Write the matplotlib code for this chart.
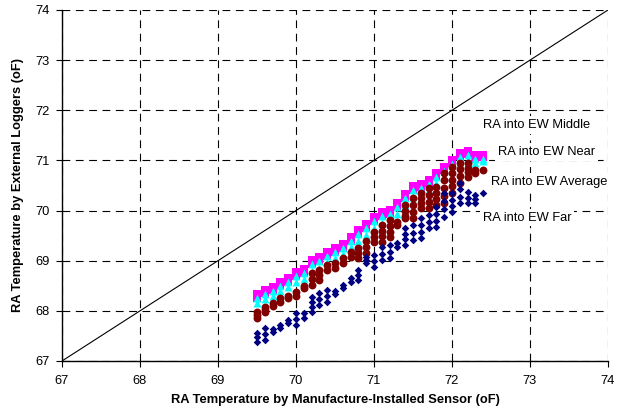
import matplotlib
matplotlib.use('agg')
import matplotlib.pyplot as plt

plt.rcParams['font.family'] = ['Liberation Sans', 'DejaVu Sans']

# sensor temperature columns (oF)
x_sensor = [69.5, 69.6, 69.7, 69.8, 69.9, 70.0, 70.1, 70.2, 70.3, 70.4,
            70.5, 70.6, 70.7, 70.8, 70.9, 71.0, 71.1, 71.2, 71.3, 71.4,
            71.5, 71.6, 71.7, 71.8, 71.9, 72.0, 72.1, 72.2, 72.3, 72.4]

# logger readings per column
ew_middle = [[68.33, 68.26], [68.42, 68.35], [68.48, 68.41], [68.58, 68.51], [68.65, 68.58],
             [68.78, 68.70], [68.83, 68.76], [69.02, 68.94], [69.07, 69.00], [69.17, 69.10],
             [69.25, 69.18], [69.33, 69.26], [69.47, 69.40], [69.61, 69.53], [69.73, 69.66],
             [69.87, 69.80], [69.97, 69.90], [70.01, 69.94], [70.15, 70.08], [70.33, 70.25],
             [70.49, 70.41], [70.53, 70.46], [70.61, 70.54], [70.75, 70.68], [70.87, 70.80],
             [71.01, 70.94], [71.15, 71.08], [71.19, 71.12], [71.11, 71.05], [71.11, 71.06]]

ew_near = [[68.25, 68.15], [68.33, 68.23], [68.40, 68.30], [68.50, 68.40], [68.57, 68.47],
           [68.70, 68.58], [68.75, 68.63], [68.93, 68.80], [68.99, 68.86], [69.09, 68.97],
           [69.17, 69.05], [69.25, 69.13], [69.39, 69.27], [69.53, 69.40], [69.65, 69.52],
           [69.79, 69.66], [69.89, 69.76], [69.93, 69.80], [70.07, 69.94], [70.25, 70.12],
           [70.41, 70.28], [70.45, 70.32], [70.53, 70.40], [70.67, 70.55], [70.79, 70.67],
           [70.93, 70.80], [71.07, 70.95], [71.11, 71.00], [71.03, 70.95], [71.03, 70.98]]

ew_average = [[67.97, 67.91, 67.85], [68.07, 68.02, 67.97], [68.15, 68.10], [68.25, 68.17], [68.30, 68.26],
              [68.37, 68.30], [68.50, 68.45], [68.75, 68.63, 68.51], [68.81, 68.71, 68.61], [68.91, 68.81],
              [68.95, 68.85], [69.05, 68.95], [69.17, 69.07], [69.25, 69.15, 69.05], [69.40, 69.28, 69.15],
              [69.57, 69.47, 69.37], [69.71, 69.60, 69.49, 69.37], [69.81, 69.70, 69.58, 69.47], [69.77, 69.71], [70.11, 70.00, 69.90, 69.85],
              [70.25, 70.12, 69.98, 69.85], [70.35, 70.25, 70.15, 70.05], [70.45, 70.32, 70.18, 70.05], [70.47, 70.35, 70.23, 70.11], [70.75, 70.60, 70.45, 70.30, 70.15],
              [70.87, 70.74, 70.61, 70.48, 70.35], [70.95, 70.82, 70.68, 70.55], [70.95, 70.85, 70.76, 70.67], [70.81, 70.75], [70.81]]

ew_far = [[67.56, 67.47, 67.38], [67.66, 67.54, 67.42], [67.64, 67.58], [67.72, 67.66], [67.82, 67.76],
          [67.95, 67.84, 67.72], [67.95, 67.85], [68.28, 68.18, 68.07, 67.97], [68.36, 68.24, 68.12], [68.42, 68.30, 68.18],
          [68.40, 68.34], [68.51, 68.45], [68.65, 68.57], [68.81, 68.71, 68.61], [69.07, 69.01, 68.95],
          [69.11, 68.99, 68.87], [69.27, 69.14, 69.01], [69.31, 69.18, 69.05], [69.35, 69.27], [69.65, 69.54, 69.43, 69.31],
          [69.71, 69.56, 69.41], [69.85, 69.72, 69.58, 69.45], [69.91, 69.78, 69.65], [70.07, 69.94, 69.80, 69.67], [70.35, 70.19, 70.03, 69.87],
          [70.35, 70.22, 70.10, 69.97], [70.55, 70.42, 70.28, 70.15], [70.37, 70.26, 70.15], [70.31, 70.23, 70.15], [70.35]]

series_names = ['RA into EW Middle', 'RA into EW Near', 'RA into EW Average', 'RA into EW Far']
label_pos = [(73.08, 71.71), (73.21, 71.17), (73.24, 70.57), (72.96, 69.86)]


def flatten(cols):
    xs, ys = [], []
    for xv, col in zip(x_sensor, cols):
        for yv in col:
            xs.append(xv)
            ys.append(yv)
    return xs, ys


fig = plt.figure(figsize=(6.23, 4.11), dpi=100)
ax = fig.add_axes([0.0995, 0.1217, 0.8764, 0.854])

ax.plot([67, 74], [67, 74], color='black', lw=0.8, zorder=2)

xs, ys = flatten(ew_middle)
ax.scatter(xs, ys, marker='s', s=28, color='#FF00FF', linewidths=0, zorder=3)
xs, ys = flatten(ew_near)
ax.scatter(xs, ys, marker='^', s=32, color='#00FFFF', linewidths=0, zorder=4)
xs, ys = flatten(ew_average)
ax.scatter(xs, ys, marker='o', s=32, color='#800000', linewidths=0, zorder=5)
xs, ys = flatten(ew_far)
ax.scatter(xs, ys, marker='D', s=15, color='#000080', linewidths=0, zorder=6)

for name, (tx, ty) in zip(series_names, label_pos):
    ax.text(tx, ty, name, fontsize=9.3, ha='center', va='center', zorder=7,
            bbox=dict(facecolor='white', edgecolor='none', pad=2))

ax.set_xlim(67, 74)
ax.set_ylim(67, 74)
ax.set_xticks(range(67, 75))
ax.set_yticks(range(67, 75))
ax.grid(True, color='black', lw=0.8, linestyle=(0, (7, 5)), zorder=1)
ax.set_axisbelow(True)

for side in ['top', 'right']:
    ax.spines[side].set_visible(False)
for side in ['left', 'bottom']:
    ax.spines[side].set_linewidth(1.0)

ax.tick_params(labelsize=9.3, length=4, width=0.8, direction='out')
ax.tick_params(axis='x', pad=6)
ax.tick_params(axis='y', pad=5)
ax.set_xlabel('RA Temperature by Manufacture-Installed Sensor (oF)', fontsize=9.3,
              fontweight='bold', labelpad=5)
ax.set_ylabel('RA Temperature by External Loggers (oF)', fontsize=9.3,
              fontweight='bold', labelpad=8)

fig.savefig('out.png', dpi=100)
